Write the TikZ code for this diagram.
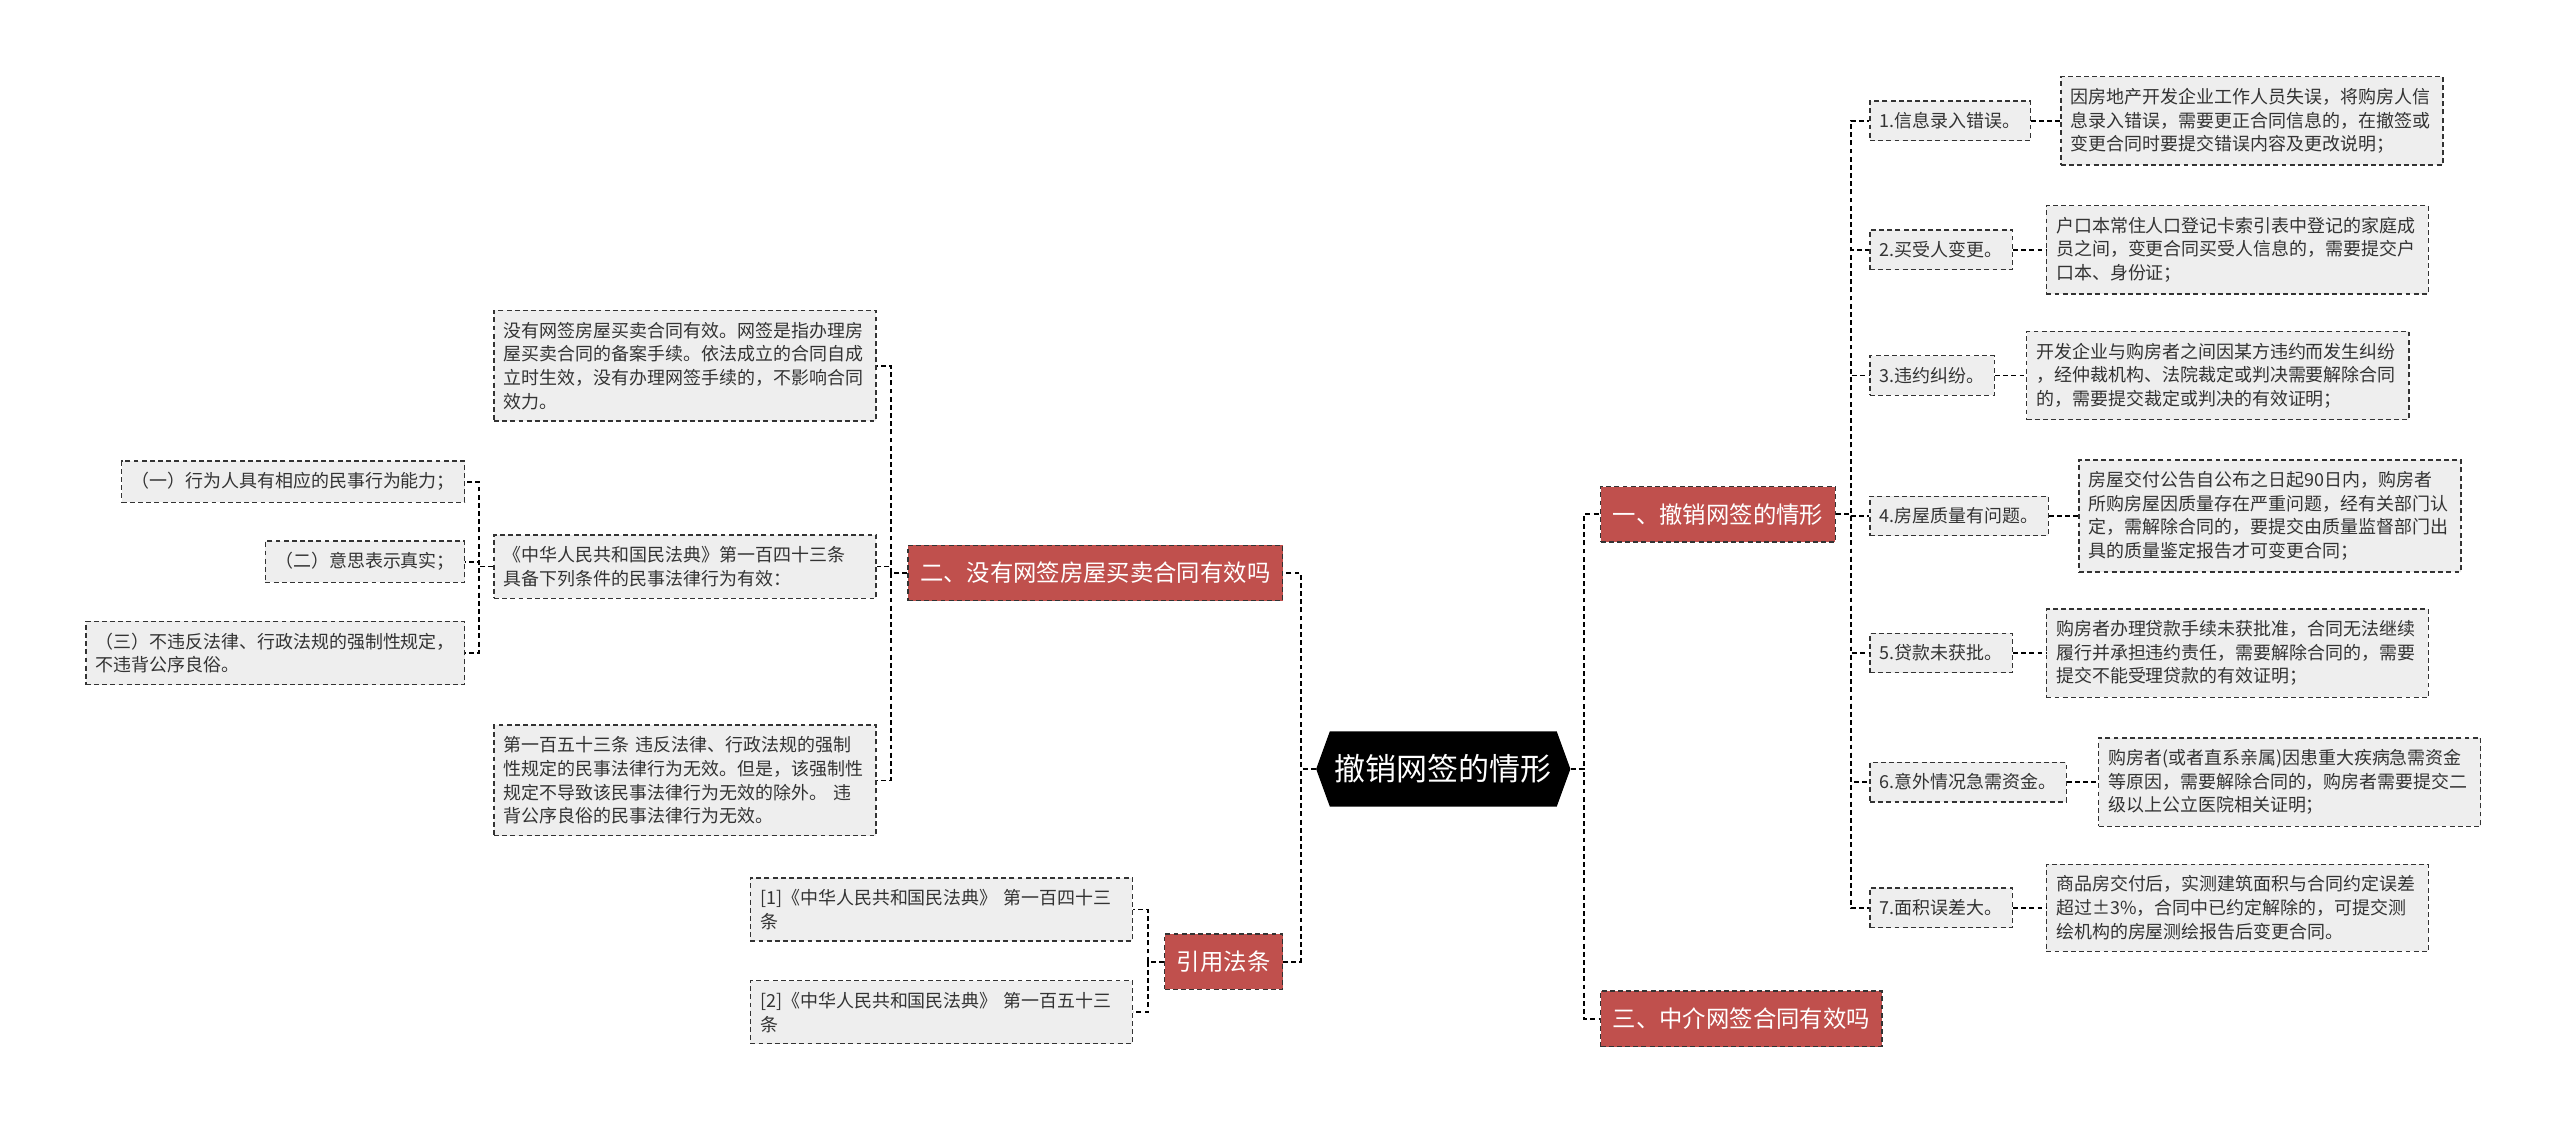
\documentclass[tikz,border=0pt]{standalone}
\usepackage{fontspec}
\setmainfont{Noto Sans CJK SC}
\usepackage{tikz}
\usetikzlibrary{shapes.symbols, calc}
\definecolor{branchred}{RGB}{192,80,77}
\definecolor{leafgray}{RGB}{238,238,238}
\definecolor{inkdark}{RGB}{51,51,51}
\tikzset{
  link/.style={draw=black, line width=1.1pt, dash pattern=on 3pt off 2pt},
  leaf/.style={draw=inkdark, fill=leafgray, line width=0.8pt, dash pattern=on 3pt off 2pt,
    text=inkdark, font=\fontsize{11}{14.5}\selectfont, inner xsep=6pt, inner ysep=7pt, align=left},
  detail/.style={leaf, text width=222pt},
  branch/.style={draw=inkdark, fill=branchred, line width=0.8pt, dash pattern=on 3pt off 2pt,
    text=white, font=\fontsize{14.3}{17}\selectfont, inner xsep=7.5pt, minimum height=34pt},
  root/.style={signal, signal to=east and west, signal pointer angle=140, fill=black,
    text=white, font=\fontsize{19}{22}\selectfont, minimum height=46pt, inner xsep=3pt}
}

\begin{document}
\begin{tikzpicture}[x=1pt, y=-1pt]
    \useasboundingbox (0,0) rectangle (1568,689);
    \node[root] (root) at (884,471) {撤销网签的情形};

    % right side
    \node[branch, anchor=west] (yi) at (980,315) {一、撤销网签的情形};
    \node[branch, anchor=west] (san) at (980,624) {三、中介网签合同有效吗};

    \node[leaf, anchor=west] (l1) at (1145,74) {1.信息录入错误。};
    \node[leaf, anchor=west] (l2) at (1145,153) {2.买受人变更。};
    \node[leaf, anchor=west] (l3) at (1145,230) {3.违约纠纷。};
    \node[leaf, anchor=west] (l4) at (1145,316) {4.房屋质量有问题。};
    \node[leaf, anchor=west] (l5) at (1145,400) {5.贷款未获批。};
    \node[leaf, anchor=west] (l6) at (1145,479) {6.意外情况急需资金。};
    \node[leaf, anchor=west] (l7) at (1145,556) {7.面积误差大。};

    \node[detail, anchor=west] (d1) at (1262,74) {因房地产开发企业工作人员失误，将购房人信\\息录入错误，需要更正合同信息的，在撤签或\\变更合同时要提交错误内容及更改说明；};
    \node[detail, anchor=west] (d2) at (1253,153) {户口本常住人口登记卡索引表中登记的家庭成\\员之间，变更合同买受人信息的，需要提交户\\口本、身份证；};
    \node[detail, anchor=west] (d3) at (1241,230) {开发企业与购房者之间因某方违约而发生纠纷\\，经仲裁机构、法院裁定或判决需要解除合同\\的，需要提交裁定或判决的有效证明；};
    \node[detail, anchor=west] (d4) at (1273,316) {房屋交付公告自公布之日起90日内，购房者\\所购房屋因质量存在严重问题，经有关部门认\\定，需解除合同的，要提交由质量监督部门出\\具的质量鉴定报告才可变更合同；};
    \node[detail, anchor=west] (d5) at (1253,400) {购房者办理贷款手续未获批准，合同无法继续\\履行并承担违约责任，需要解除合同的，需要\\提交不能受理贷款的有效证明；};
    \node[detail, anchor=west] (d6) at (1285,479) {购房者(或者直系亲属)因患重大疾病急需资金\\等原因，需要解除合同的，购房者需要提交二\\级以上公立医院相关证明；};
    \node[detail, anchor=west] (d7) at (1253,556) {商品房交付后，实测建筑面积与合同约定误差\\超过±3\%，合同中已约定解除的，可提交测\\绘机构的房屋测绘报告后变更合同。};

    % left side
    \node[branch, anchor=east] (er) at (786,351) {二、没有网签房屋买卖合同有效吗};
    \node[branch, anchor=east] (cite) at (786,589) {引用法条};

    \node[detail, anchor=east] (a1) at (537,224) {没有网签房屋买卖合同有效。网签是指办理房\\屋买卖合同的备案手续。依法成立的合同自成\\立时生效，没有办理网签手续的，不影响合同\\效力。};
    \node[detail, anchor=east] (a2) at (537,347) {《中华人民共和国民法典》第一百四十三条\\具备下列条件的民事法律行为有效：};
    \node[detail, anchor=east] (a3) at (537,478) {第一百五十三条 违反法律、行政法规的强制\\性规定的民事法律行为无效。但是，该强制性\\规定不导致该民事法律行为无效的除外。 违\\背公序良俗的民事法律行为无效。};

    \node[leaf, anchor=east] (b1) at (285,295) {（一）行为人具有相应的民事行为能力；};
    \node[leaf, anchor=east] (b2) at (285,344) {（二）意思表示真实；};
    \node[leaf, anchor=east] (b3) at (285,400) {（三）不违反法律、行政法规的强制性规定，\\不违背公序良俗。};

    \node[detail, anchor=east] (c1) at (694,557) {[1]《中华人民共和国民法典》 第一百四十三\\条};
    \node[detail, anchor=east] (c2) at (694,620) {[2]《中华人民共和国民法典》 第一百五十三\\条};

    % connectors
    \draw[link] (root.east) -- ++(8,0) |- (yi.west);
    \draw[link] (root.east) -- ++(8,0) |- (san.west);
    \draw[link] (root.west) -- ++(-9,0) |- (er.east);
    \draw[link] (root.west) -- ++(-9,0) |- (cite.east);
    \foreach \i in {1,...,7} {
      \draw[link] (yi.east) -- ++(9,0) |- (l\i.west);
      \draw[link] (l\i.east) -- (d\i.west);
    }
    \foreach \i in {1,2,3}
      \draw[link] (er.west) -- ++(-10,0) |- (a\i.east);
    \foreach \i in {1,2,3}
      \draw[link] (a2.west) -- ++(-9,0) |- (b\i.east);
    \foreach \i in {1,2}
      \draw[link] (cite.west) -- ++(-10,0) |- (c\i.east);
  \end{tikzpicture}
\end{document}
